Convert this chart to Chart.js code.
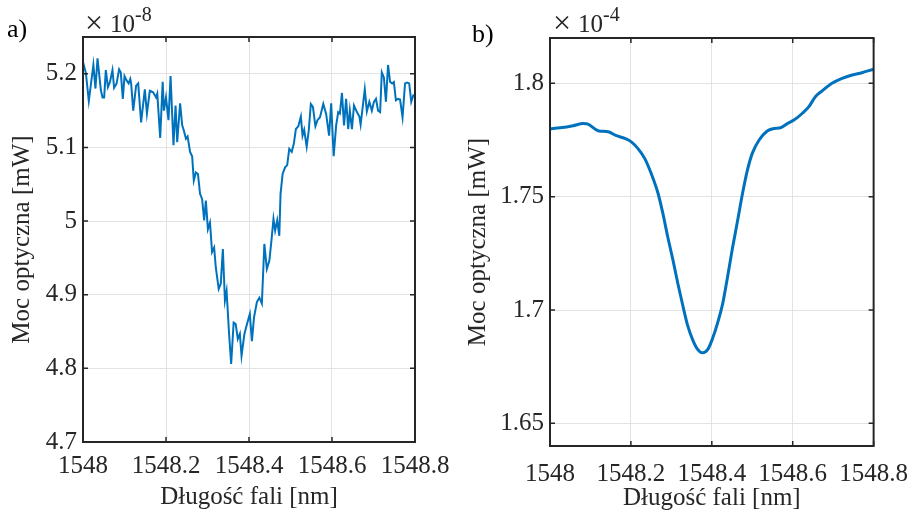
<!DOCTYPE html>
<html>
<head>
<meta charset="utf-8">
<script src="https://cdn.jsdelivr.net/npm/chart.js@4.4.1/dist/chart.umd.min.js"></script>
<style>
  body { margin: 0; background: #fff; }
  #wrap { position: relative; width: 921px; height: 517px; }
  #chartA { position: absolute; left: 0; top: 0; }
  #chartB { position: absolute; left: 460px; top: 0; }
</style>
</head>
<body>
<div id="wrap">
  <canvas id="chartA" width="460" height="517"></canvas>
  <canvas id="chartB" width="461" height="517"></canvas>
</div>
<script>
// panel a) - noisy dip, values in units of 1e-8 mW
const wavelengthA = [
  1548.000, 1548.007, 1548.014, 1548.025, 1548.030, 1548.035, 1548.043, 1548.047, 1548.051, 1548.055,
  1548.060, 1548.065, 1548.071, 1548.075, 1548.081, 1548.087, 1548.091, 1548.096, 1548.100, 1548.105,
  1548.110, 1548.114, 1548.116, 1548.121, 1548.128, 1548.133, 1548.140, 1548.149, 1548.154, 1548.161,
  1548.169, 1548.176, 1548.179, 1548.186, 1548.192, 1548.195, 1548.200, 1548.206, 1548.211, 1548.218,
  1548.223, 1548.227, 1548.234, 1548.239, 1548.243, 1548.248, 1548.252, 1548.258, 1548.263, 1548.267,
  1548.272, 1548.277, 1548.282, 1548.287, 1548.292, 1548.296, 1548.301, 1548.306, 1548.311, 1548.316,
  1548.320, 1548.327, 1548.332, 1548.337, 1548.342, 1548.346, 1548.352, 1548.357, 1548.363, 1548.368,
  1548.373, 1548.378, 1548.382, 1548.389, 1548.396, 1548.402, 1548.407, 1548.412, 1548.419, 1548.425,
  1548.431, 1548.437, 1548.443, 1548.449, 1548.454, 1548.459, 1548.463, 1548.468, 1548.473, 1548.476,
  1548.481, 1548.487, 1548.492, 1548.497, 1548.503, 1548.508, 1548.513, 1548.519, 1548.525, 1548.529,
  1548.533, 1548.539, 1548.544, 1548.549, 1548.554, 1548.560, 1548.565, 1548.571, 1548.579, 1548.586,
  1548.593, 1548.598, 1548.604, 1548.610, 1548.615, 1548.619, 1548.624, 1548.629, 1548.634, 1548.639,
  1548.643, 1548.648, 1548.653, 1548.660, 1548.666, 1548.669, 1548.674, 1548.679, 1548.684, 1548.690,
  1548.696, 1548.701, 1548.706, 1548.711, 1548.716, 1548.720, 1548.725, 1548.730, 1548.735, 1548.740,
  1548.745, 1548.749, 1548.754, 1548.759, 1548.764, 1548.770, 1548.776, 1548.781, 1548.786, 1548.791,
  1548.796, 1548.800
];
const powerA = [
  5.216, 5.201, 5.163, 5.212, 5.180, 5.221, 5.178, 5.168, 5.168, 5.205,
  5.182, 5.189, 5.205, 5.181, 5.187, 5.206, 5.202, 5.166, 5.197, 5.191,
  5.187, 5.193, 5.187, 5.150, 5.184, 5.187, 5.134, 5.179, 5.146, 5.177,
  5.175, 5.168, 5.173, 5.113, 5.189, 5.150, 5.168, 5.137, 5.197, 5.103,
  5.157, 5.107, 5.160, 5.130, 5.123, 5.112, 5.115, 5.094, 5.088, 5.055,
  5.066, 5.064, 5.037, 5.030, 5.001, 5.028, 4.989, 4.998, 4.958, 4.964,
  4.937, 4.908, 4.915, 4.962, 4.892, 4.905, 4.847, 4.806, 4.862, 4.860,
  4.840, 4.847, 4.817, 4.847, 4.862, 4.874, 4.837, 4.869, 4.890, 4.896,
  4.888, 4.969, 4.935, 4.946, 4.973, 5.003, 4.987, 5.001, 4.980, 5.037,
  5.064, 5.073, 5.076, 5.098, 5.094, 5.105, 5.125, 5.129, 5.142, 5.116,
  5.124, 5.101, 5.123, 5.159, 5.155, 5.129, 5.137, 5.141, 5.159, 5.145,
  5.116, 5.160, 5.088, 5.130, 5.148, 5.146, 5.174, 5.130, 5.166, 5.125,
  5.150, 5.125, 5.157, 5.148, 5.142, 5.131, 5.155, 5.179, 5.149, 5.162,
  5.150, 5.162, 5.166, 5.150, 5.148, 5.202, 5.195, 5.162, 5.212, 5.189,
  5.187, 5.189, 5.164, 5.166, 5.165, 5.141, 5.187, 5.188, 5.187, 5.162,
  5.171, 5.171
];

// panel b) - smooth dip, values in units of 1e-4 mW
const wavelengthB = [
  1548.000, 1548.025, 1548.057, 1548.082, 1548.094, 1548.119, 1548.144, 1548.164, 1548.185, 1548.201,
  1548.217, 1548.234, 1548.250, 1548.267, 1548.279, 1548.291, 1548.304, 1548.316, 1548.328, 1548.340,
  1548.353, 1548.365, 1548.377, 1548.390, 1548.402, 1548.414, 1548.427, 1548.439, 1548.451, 1548.464,
  1548.476, 1548.488, 1548.500, 1548.517, 1548.537, 1548.554, 1548.570, 1548.587, 1548.603, 1548.624,
  1548.640, 1548.656, 1548.673, 1548.697, 1548.722, 1548.747, 1548.771, 1548.800
];
const powerB = [
  1.7800, 1.7804, 1.7813, 1.7823, 1.7820, 1.7791, 1.7786, 1.7769, 1.7757, 1.7742,
  1.7713, 1.7669, 1.7603, 1.7515, 1.7426, 1.7323, 1.7220, 1.7117, 1.7022, 1.6933,
  1.6867, 1.6826, 1.6811, 1.6826, 1.6875, 1.6941, 1.7029, 1.7147, 1.7272, 1.7397,
  1.7515, 1.7617, 1.7691, 1.7750, 1.7790, 1.7801, 1.7804, 1.7823, 1.7838, 1.7868,
  1.7897, 1.7941, 1.7967, 1.8000, 1.8022, 1.8037, 1.8047, 1.8062
];

const xTicks = [1548, 1548.2, 1548.4, 1548.6, 1548.8];
const yTicksA = [4.7, 4.8, 4.9, 5, 5.1, 5.2];
const yTicksB = [1.65, 1.7, 1.75, 1.8];

const FONT = { family: "'Liberation Serif', 'Times New Roman', serif", size: 25 };
const INK = "#262626";
const LINE = "#0072BD";
const GRID = "#e3e3e3";

const fmt = (v) => String(+v.toFixed(3));

// MATLAB-like box with inward ticks on all four sides, plus panel letter and exponent
const matlabBox = {
  id: "matlabBox",
  afterDraw(chart, args, o) {
    const { ctx, chartArea: a, scales: { x, y } } = chart;
    const t = 5;
    ctx.save();
    ctx.strokeStyle = INK;
    ctx.lineWidth = 1.5;
    ctx.beginPath();
    x.ticks.forEach((tk) => {
      const px = x.getPixelForValue(tk.value);
      ctx.moveTo(px, a.bottom); ctx.lineTo(px, a.bottom - t);
      ctx.moveTo(px, a.top); ctx.lineTo(px, a.top + t);
    });
    y.ticks.forEach((tk) => {
      const py = y.getPixelForValue(tk.value);
      ctx.moveTo(a.left, py); ctx.lineTo(a.left + t, py);
      ctx.moveTo(a.right, py); ctx.lineTo(a.right - t, py);
    });
    ctx.stroke();
    ctx.lineWidth = 2;
    ctx.strokeRect(a.left, a.top, a.width, a.height);

    ctx.fillStyle = "#000";
    ctx.font = `26px ${FONT.family}`;
    ctx.textBaseline = "alphabetic";
    ctx.textAlign = "left";
    ctx.fillText(o.panel, o.panelX, o.panelY);

    // "× 10^exp" like MATLAB's exponent label
    ctx.fillStyle = INK;
    ctx.font = `32px ${FONT.family}`;
    ctx.fillText("\u00d7", o.expX, o.expY + 1);
    ctx.font = `25px ${FONT.family}`;
    ctx.fillText("10", o.expX + 25, o.expY);
    const w = ctx.measureText("10").width;
    ctx.font = `20px ${FONT.family}`;
    ctx.fillText(o.exp, o.expX + 25 + w, o.expY - 11);
    ctx.restore();
  },
};

function buildChart(id, xs, ys, yTicks, yMin, yMax, cfg) {
  const pts = xs.map((x, i) => ({ x, y: ys[i] }));
  return new Chart(document.getElementById(id), {
    type: "line",
    data: {
      datasets: [{
        data: pts,
        borderColor: LINE,
        borderWidth: cfg.lineWidth,
        pointRadius: 0,
        tension: cfg.smooth ? 0.4 : 0,
        cubicInterpolationMode: cfg.smooth ? "monotone" : "default",
        fill: false,
      }],
    },
    options: {
      responsive: false,
      animation: false,
      layout: { padding: { top: cfg.top, right: cfg.right, left: 0, bottom: 0 } },
      plugins: {
        legend: { display: false },
        tooltip: { enabled: false },
        matlabBox: cfg.box,
      },
      scales: {
        x: {
          type: "linear",
          min: 1548,
          max: 1548.8,
          afterBuildTicks: (s) => { s.ticks = xTicks.map((v) => ({ value: v })); },
          afterFit: (s) => { s.height = cfg.xAxisHeight; },
          grid: { color: GRID, lineWidth: 1, drawTicks: false },
          border: { display: false },
          ticks: { font: FONT, color: INK, padding: cfg.xTickPad, maxRotation: 0, autoSkip: false, callback: fmt },
          title: { display: true, text: "Długość fali [nm]", font: FONT, color: INK, padding: { top: 0, bottom: cfg.xTitlePad } },
        },
        y: {
          type: "linear",
          min: yMin,
          max: yMax,
          afterBuildTicks: (s) => { s.ticks = yTicks.map((v) => ({ value: v })); },
          afterFit: (s) => { s.width = cfg.yAxisWidth; },
          grid: { color: GRID, lineWidth: 1, drawTicks: false },
          border: { display: false },
          ticks: { font: FONT, color: INK, padding: 6, autoSkip: false, callback: fmt },
          title: { display: true, text: "Moc optyczna [mW]", font: FONT, color: INK, padding: { top: cfg.yTitlePad, bottom: 0 } },
        },
      },
    },
    plugins: [matlabBox],
  });
}

buildChart("chartA", wavelengthA, powerA, yTicksA, 4.7, 5.25, {
  lineWidth: 2, smooth: false,
  top: 37, right: 45, xAxisHeight: 75, yAxisWidth: 83,
  xTickPad: 9, xTitlePad: 5, yTitlePad: 7,
  box: { panel: "a)", panelX: 7, panelY: 37, exp: "-8", expX: 85, expY: 32 },
});

buildChart("chartB", wavelengthB, powerB, yTicksB, 1.64, 1.82, {
  lineWidth: 3, smooth: true,
  top: 38, right: 46, xAxisHeight: 71, yAxisWidth: 90,
  xTickPad: 13, xTitlePad: 4, yTitlePad: 3,
  box: { panel: "b)", panelX: 12, panelY: 42, exp: "-4", expX: 93, expY: 32 },
});
</script>
</body>
</html>
